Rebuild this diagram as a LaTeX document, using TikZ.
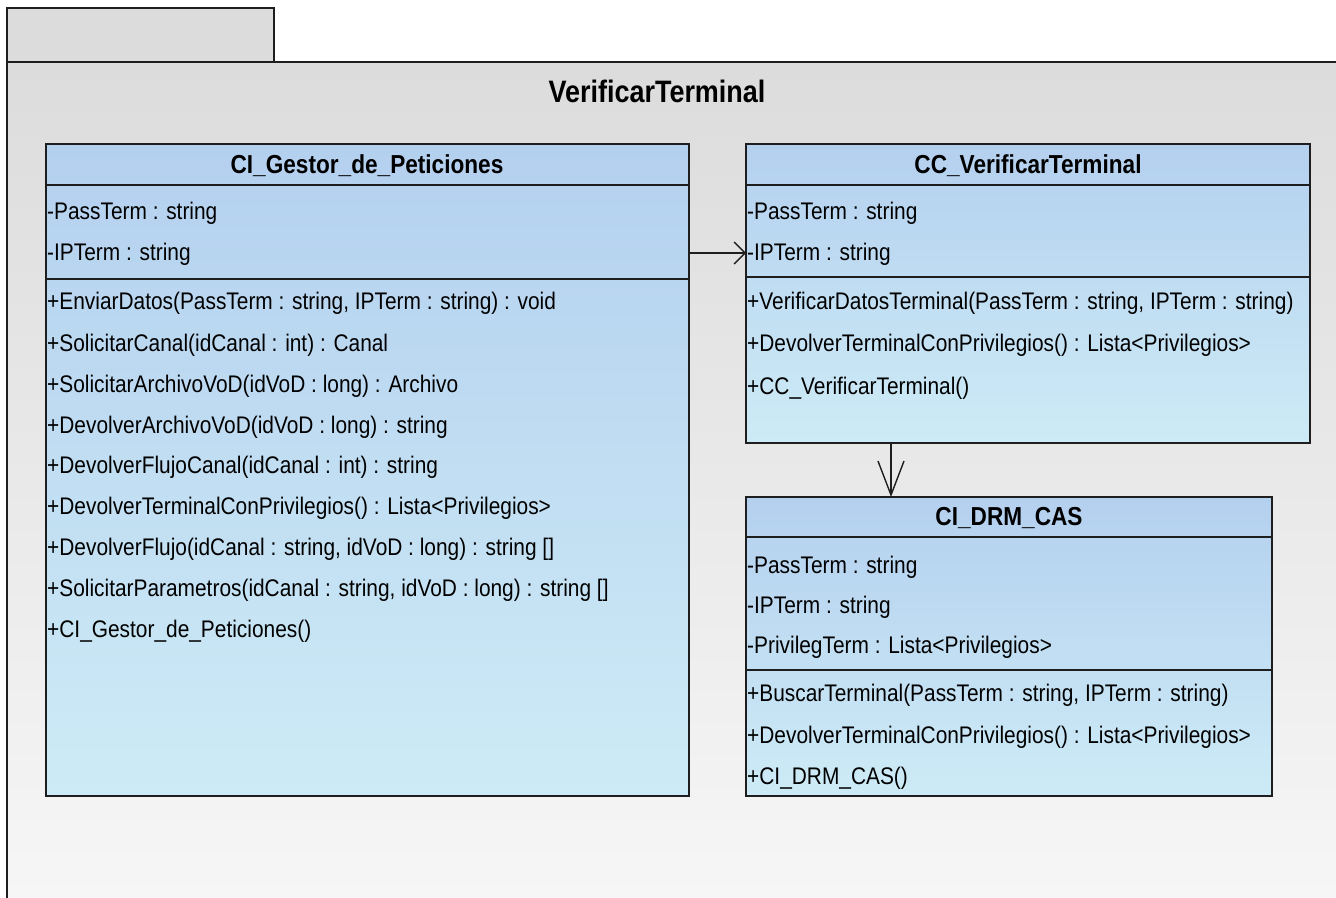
\documentclass[tikz,border=0pt]{standalone}
\usepackage{fontspec}
\setmainfont{Liberation Sans}[FakeStretch=0.87]
\usetikzlibrary{arrows.meta,calc}
\definecolor{pkgtop}{HTML}{DCDCDC}
\definecolor{pkgbot}{HTML}{F6F6F6}
\definecolor{cltop}{HTML}{B4D0EF}
\definecolor{clbot}{HTML}{CDEBF6}
\definecolor{ln}{HTML}{1E1E1E}
\tikzset{
  pkgline/.style={draw=ln, line width=1.8pt},
  classbox/.style={draw=ln, line width=1.8pt, anchor=north west, inner sep=0pt, outer sep=0pt,
     top color=cltop, bottom color=clbot},
  sep/.style={draw=ln, line width=1.8pt},
  ctitle/.style={font=\bfseries\fontsize{26}{30}\selectfont, inner sep=0pt, text height=18pt, text depth=5pt},
  member/.style={font=\fontsize{24}{28}\selectfont, anchor=west, inner sep=0pt, text height=17pt, text depth=5pt},
  assoc/.style={draw=ln, line width=1.4pt},
}
\begin{document}
\begin{tikzpicture}[x=1pt,y=-1pt]
\useasboundingbox (0,0) rectangle (1336,897);
\fill[white] (0,0) rectangle (1336,897);
% package
\path[fill=pkgtop, pkgline] (7,62) rectangle (274,8);
\shade[top color=pkgtop, bottom color=pkgbot] (7,62) rectangle (1340,900);
\draw[pkgline] (7,900) -- (7,62) -- (1340,62);
\node[font=\bfseries\fontsize{31}{35}\selectfont, inner sep=0pt] (pkgtitle) at (657,91) {VerificarTerminal};

% CI_Gestor_de_Peticiones
\node[classbox, minimum width=643pt, minimum height=652pt] (gestor) at (46,144) {};
\draw[sep] (46,185) -- (689,185);
\draw[sep] (46,279) -- (689,279);
\node[ctitle] (gestorT) at (367,167) {CI\_Gestor\_de\_Peticiones};
\node[member] (g1) at (47,213) {-PassTerm : string};
\node[member] (g2) at (47,254) {-IPTerm : string};
\node[member] (g3) at (47,303) {+EnviarDatos(PassTerm : string, IPTerm : string) : void};
\node[member] (g4) at (47,345) {+SolicitarCanal(idCanal : int) : Canal};
\node[member] (g5) at (47,386) {+SolicitarArchivoVoD(idVoD : long) : Archivo};
\node[member] (g6) at (47,427) {+DevolverArchivoVoD(idVoD : long) : string};
\node[member] (g7) at (47,467) {+DevolverFlujoCanal(idCanal : int) : string};
\node[member] (g8) at (47,508) {+DevolverTerminalConPrivilegios() : Lista<Privilegios>};
\node[member] (g9) at (47,549) {+DevolverFlujo(idCanal : string, idVoD : long) : string []};
\node[member] (g10) at (47,590) {+SolicitarParametros(idCanal : string, idVoD : long) : string []};
\node[member] (g11) at (47,631) {+CI\_Gestor\_de\_Peticiones()};

% CC_VerificarTerminal
\node[classbox, minimum width=564pt, minimum height=299pt] (cc) at (746,144) {};
\draw[sep] (746,185) -- (1310,185);
\draw[sep] (746,277) -- (1310,277);
\node[ctitle] (ccT) at (1028,167) {CC\_VerificarTerminal};
\node[member] (c1) at (747,213) {-PassTerm : string};
\node[member] (c2) at (747,254) {-IPTerm : string};
\node[member] (c3) at (747,303) {+VerificarDatosTerminal(PassTerm : string, IPTerm : string)};
\node[member] (c4) at (747,345) {+DevolverTerminalConPrivilegios() : Lista<Privilegios>};
\node[member] (c5) at (747,388) {+CC\_VerificarTerminal()};

% CI_DRM_CAS
\node[classbox, minimum width=526pt, minimum height=299pt] (drm) at (746,497) {};
\draw[sep] (746,537) -- (1272,537);
\draw[sep] (746,670) -- (1272,670);
\node[ctitle] (drmT) at (1009,519) {CI\_DRM\_CAS};
\node[member] (d1) at (747,567) {-PassTerm : string};
\node[member] (d2) at (747,607) {-IPTerm : string};
\node[member] (d3) at (747,647) {-PrivilegTerm : Lista<Privilegios>};
\node[member] (d4) at (747,695) {+BuscarTerminal(PassTerm : string, IPTerm : string)};
\node[member] (d5) at (747,737) {+DevolverTerminalConPrivilegios() : Lista<Privilegios>};
\node[member] (d6) at (747,778) {+CI\_DRM\_CAS()};

% associations
\coordinate (across) at (0,253);
\draw[assoc, -{Straight Barb[length=11pt, width=22pt, line width=1.4pt]}] (gestor.east |- across) -- (cc.west |- across);
\coordinate (down) at (891,0);
\draw[assoc, -{Straight Barb[length=34pt, width=26pt, line width=1.4pt]}] (cc.south -| down) -- (drm.north -| down);
\end{tikzpicture}
\end{document}
